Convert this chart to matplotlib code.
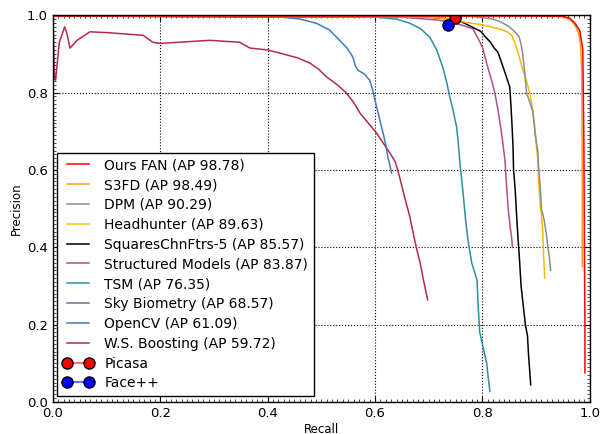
import numpy as np
import matplotlib
matplotlib.use('Agg')
import matplotlib.pyplot as plt
from matplotlib.ticker import MultipleLocator

# PR curves (recall, precision)
fan_r = [0.0, 0.90, 0.95, 0.963, 0.972, 0.981, 0.985, 0.987, 0.989, 0.990, 0.991, 0.991]
fan_p = [0.998, 0.998, 0.997, 0.992, 0.980, 0.961, 0.93, 0.91, 0.67, 0.40, 0.20, 0.075]

s3fd_r = [0.168, 0.90, 0.95, 0.962, 0.972, 0.979, 0.983, 0.985, 0.986, 0.986]
s3fd_p = [0.998, 0.998, 0.996, 0.990, 0.975, 0.955, 0.92, 0.85, 0.60, 0.35]

dpm_r = [0.0, 0.78, 0.82, 0.835, 0.85, 0.86, 0.868, 0.872, 0.875, 0.879, 0.882, 0.887, 0.894,
         0.898, 0.903, 0.905, 0.908, 0.91, 0.915, 0.919, 0.922, 0.925, 0.927]
dpm_p = [0.998, 0.997, 0.99, 0.982, 0.97, 0.958, 0.945, 0.925, 0.90, 0.85, 0.80, 0.78, 0.75,
         0.695, 0.65, 0.60, 0.55, 0.50, 0.47, 0.436, 0.40, 0.37, 0.34]

hh_r = [0.0, 0.70, 0.74, 0.771, 0.80, 0.83, 0.845, 0.855, 0.860, 0.865, 0.870, 0.875, 0.882, 0.888,
        0.893, 0.897, 0.900, 0.903, 0.905, 0.907, 0.910, 0.912, 0.914, 0.916]
hh_p = [0.998, 0.995, 0.99, 0.981, 0.975, 0.965, 0.958, 0.948, 0.93, 0.91, 0.885, 0.86, 0.83, 0.80,
        0.76, 0.72, 0.67, 0.63, 0.57, 0.52, 0.48, 0.45, 0.38, 0.32]

sq_r = [0.0, 0.70, 0.74, 0.758, 0.78, 0.797, 0.805, 0.815, 0.822, 0.829, 0.835, 0.84, 0.846, 0.851,
        0.853, 0.855, 0.857, 0.858, 0.861, 0.863, 0.866, 0.869, 0.872, 0.876, 0.88, 0.884, 0.886, 0.89]
sq_p = [0.998, 0.995, 0.99, 0.985, 0.97, 0.958, 0.945, 0.93, 0.915, 0.904, 0.88, 0.86, 0.835, 0.814,
        0.77, 0.72, 0.66, 0.60, 0.55, 0.50, 0.43, 0.37, 0.30, 0.25, 0.20, 0.17, 0.12, 0.044]

sm_r = [0.0, 0.65, 0.72, 0.76, 0.782, 0.79, 0.80, 0.808, 0.817, 0.823, 0.829, 0.834, 0.838, 0.842,
        0.845, 0.848, 0.850, 0.852, 0.854, 0.856]
sm_p = [0.998, 0.995, 0.987, 0.975, 0.965, 0.945, 0.918, 0.875, 0.832, 0.80, 0.755, 0.71, 0.67, 0.625,
        0.56, 0.50, 0.475, 0.45, 0.43, 0.40]

tsm_r = [0.0, 0.60, 0.64, 0.665, 0.685, 0.702, 0.715, 0.726, 0.733, 0.739, 0.746, 0.752, 0.755, 0.758,
         0.761, 0.764, 0.768, 0.773, 0.78, 0.79, 0.792, 0.795, 0.80, 0.808, 0.811, 0.814]
tsm_p = [0.998, 0.995, 0.99, 0.979, 0.965, 0.943, 0.91, 0.866, 0.83, 0.79, 0.75, 0.71, 0.67, 0.62,
         0.58, 0.54, 0.48, 0.42, 0.36, 0.315, 0.25, 0.18, 0.15, 0.10, 0.06, 0.027]

sky_r = [0.0, 0.68]
sky_p = [0.998, 0.998]

cv_r = [0.0, 0.428, 0.46, 0.491, 0.515, 0.534, 0.548, 0.559, 0.563, 0.568, 0.58, 0.59, 0.595, 0.60,
        0.607, 0.615, 0.62, 0.624, 0.628, 0.631]
cv_p = [0.998, 0.995, 0.99, 0.979, 0.962, 0.935, 0.915, 0.891, 0.87, 0.858, 0.848, 0.832, 0.81, 0.78,
        0.74, 0.695, 0.665, 0.633, 0.61, 0.592]

ws_r = [0.0, 0.003, 0.005, 0.012, 0.022, 0.026, 0.032, 0.045, 0.069, 0.10, 0.168, 0.186, 0.20, 0.292,
        0.348, 0.367, 0.40, 0.428, 0.455, 0.479, 0.495, 0.51, 0.53, 0.547, 0.56, 0.572, 0.588, 0.603,
        0.615, 0.628, 0.638, 0.646, 0.655, 0.665, 0.672, 0.678, 0.684, 0.689, 0.694, 0.698]
ws_p = [1.0, 0.835, 0.832, 0.93, 0.97, 0.953, 0.915, 0.935, 0.957, 0.955, 0.948, 0.93, 0.927, 0.935,
        0.93, 0.915, 0.91, 0.90, 0.89, 0.876, 0.86, 0.84, 0.82, 0.798, 0.775, 0.747, 0.72, 0.695,
        0.67, 0.643, 0.62, 0.58, 0.53, 0.478, 0.43, 0.393, 0.36, 0.323, 0.29, 0.264]

picasa = (0.749, 0.994)
facepp = (0.736, 0.974)

curves = [
    ('Ours FAN (AP 98.78)', fan_r, fan_p, '#ff0000'),
    ('S3FD (AP 98.49)', s3fd_r, s3fd_p, '#ff9a1a'),
    ('DPM (AP 90.29)', dpm_r, dpm_p, '#8c8c8c'),
    ('Headhunter (AP 89.63)', hh_r, hh_p, '#ffb700'),
    ('SquaresChnFtrs-5 (AP 85.57)', sq_r, sq_p, '#000000'),
    ('Structured Models (AP 83.87)', sm_r, sm_p, '#b4508a'),
    ('TSM (AP 76.35)', tsm_r, tsm_p, '#2d8fa0'),
    ('Sky Biometry (AP 68.57)', sky_r, sky_p, '#7a6890'),
    ('OpenCV (AP 61.09)', cv_r, cv_p, '#3f7cbf'),
    ('W.S. Boosting (AP 59.72)', ws_r, ws_p, '#b22b4a'),
]

plt.rcParams['xtick.direction'] = 'in'
plt.rcParams['ytick.direction'] = 'in'
plt.rcParams['xtick.top'] = True
plt.rcParams['ytick.right'] = True

fig = plt.figure(figsize=(6.15, 4.34), dpi=100)
ax = fig.add_axes([0.086, 0.074, 0.873, 0.891])

# draw in reverse so the best method sits on top
for name, r, p, c in curves[::-1]:
    ax.plot(r, p, color=c, lw=1.1, label=name)

ax.plot([picasa[0]], [picasa[1]], 'o-', color='#ff7070', mfc='red', mec='black',
        ms=8, label='Picasa')
ax.plot([facepp[0]], [facepp[1]], 'o-', color='#7070ff', mfc='blue', mec='black',
        ms=8, label='Face++')

ax.set_xlim(0, 1)
ax.set_ylim(0, 1)
ax.xaxis.set_major_locator(MultipleLocator(0.2))
ax.yaxis.set_major_locator(MultipleLocator(0.2))
ax.xaxis.set_minor_locator(MultipleLocator(0.01))
ax.yaxis.set_minor_locator(MultipleLocator(0.01))
ax.tick_params(which='major', length=4, width=0.8, labelsize=9.5)
ax.tick_params(which='minor', length=2, width=0.5)
ax.grid(True, which='major', linestyle=':', color='black', linewidth=0.8)
for s in ax.spines.values():
    s.set_linewidth(1.0)
ax.set_xlabel('Recall', fontsize=8.5, labelpad=2)
ax.set_ylabel('Precision', fontsize=8.5, labelpad=3)

h, l = ax.get_legend_handles_labels()
order = list(range(len(curves)))[::-1] + [len(curves), len(curves) + 1]
leg = ax.legend([h[i] for i in order], [l[i] for i in order], loc='lower left',
                bbox_to_anchor=(0.0075, 0.0155), borderaxespad=0, fontsize=10,
                numpoints=2, fancybox=False, edgecolor='black', framealpha=1,
                handlelength=2.2, labelspacing=0.42)
leg.get_frame().set_linewidth(1.0)

fig.savefig('out.png', dpi=100)
